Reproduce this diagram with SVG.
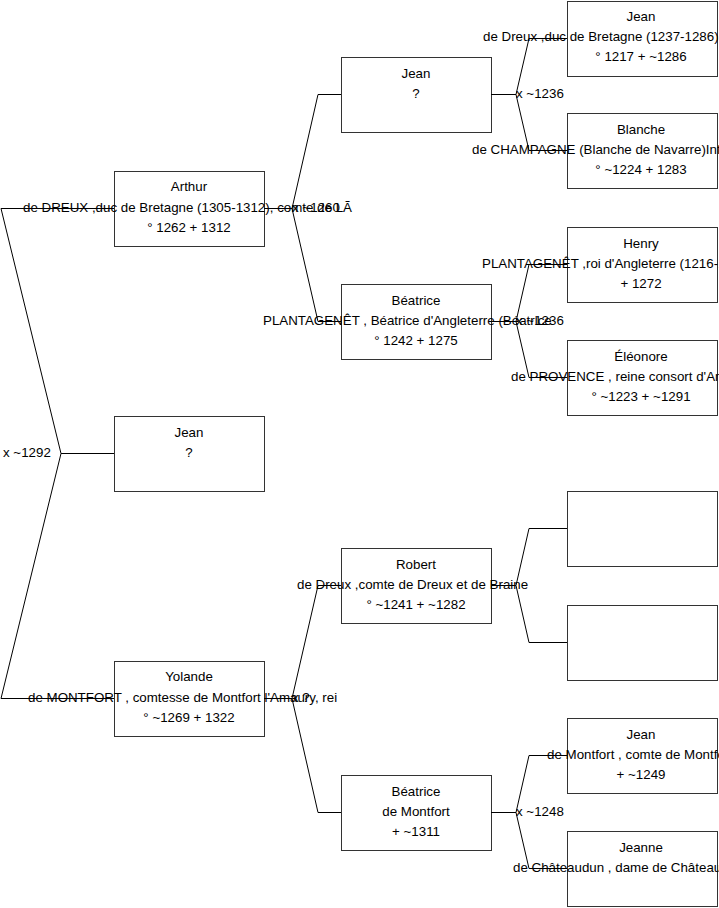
<svg xmlns="http://www.w3.org/2000/svg" width="719" height="908" viewBox="0 0 719 908">
<style>
.box{fill:#fff;stroke:#333;stroke-width:1}
.c{fill:none;stroke:#000;stroke-width:1}
text{font-family:"Liberation Sans",Arial,sans-serif;font-size:13.33px;fill:#000}
.m{text-anchor:middle}
</style>
<rect width="719" height="908" fill="#fff"/>
<g id="n-arthur"><rect class="box" x="114.5" y="171.5" width="150" height="75"/>
<text class="m" x="189" y="191">Arthur</text>
<text x="23" y="212">de DREUX ,duc de Bretagne (1305-1312), comte de LÃ</text>
<text class="m" x="189" y="232">° 1262 + 1312</text></g>
<g id="n-jean1"><rect class="box" x="114.5" y="416.5" width="150" height="75"/>
<text class="m" x="189" y="437">Jean</text>
<text class="m" x="189" y="457">?</text></g>
<g id="n-yolande"><rect class="box" x="114.5" y="661.5" width="150" height="75"/>
<text class="m" x="189" y="681">Yolande</text>
<text x="28" y="702">de MONTFORT , comtesse de Montfort l'Amaury,  rei</text>
<text class="m" x="189" y="722">° ~1269 + 1322</text></g>
<g id="n-jean2"><rect class="box" x="341.5" y="57.5" width="150" height="75"/>
<text class="m" x="416" y="78">Jean</text>
<text class="m" x="416" y="98">?</text></g>
<g id="n-beatrice1"><rect class="box" x="341.5" y="284.5" width="150" height="75"/>
<text class="m" x="416" y="305">Béatrice</text>
<text x="263" y="325">PLANTAGENÊT , Béatrice d'Angleterre (Béatrice</text>
<text class="m" x="416" y="345">° 1242 + 1275</text></g>
<g id="n-robert"><rect class="box" x="341.5" y="548.5" width="150" height="75"/>
<text class="m" x="416" y="569">Robert</text>
<text x="297" y="589">de Dreux ,comte de Dreux et de Braine</text>
<text class="m" x="416" y="609">° ~1241 + ~1282</text></g>
<g id="n-beatrice2"><rect class="box" x="341.5" y="775.5" width="150" height="75"/>
<text class="m" x="416" y="796">Béatrice</text>
<text class="m" x="416" y="816">de Montfort</text>
<text class="m" x="416" y="836">+ ~1311</text></g>
<g id="n-jean3"><rect class="box" x="567.5" y="1.5" width="150" height="75"/>
<text class="m" x="641" y="21">Jean</text>
<text x="483" y="41">de Dreux ,duc de Bretagne (1237-1286)</text>
<text class="m" x="641" y="61">° 1217 + ~1286</text></g>
<g id="n-blanche"><rect class="box" x="567.5" y="113.5" width="150" height="75"/>
<text class="m" x="641" y="134">Blanche</text>
<text x="472" y="154">de CHAMPAGNE (Blanche de Navarre)Inf</text>
<text class="m" x="641" y="174">° ~1224 + 1283</text></g>
<g id="n-henry"><rect class="box" x="567.5" y="227.5" width="150" height="75"/>
<text class="m" x="641" y="248">Henry</text>
<text x="482" y="268">PLANTAGENÊT ,roi d'Angleterre (1216-1</text>
<text class="m" x="641" y="288">+ 1272</text></g>
<g id="n-eleonore"><rect class="box" x="567.5" y="340.5" width="150" height="75"/>
<text class="m" x="641" y="361">Éléonore</text>
<text x="511" y="381">de PROVENCE , reine consort d'An</text>
<text class="m" x="641" y="401">° ~1223 + ~1291</text></g>
<g id="n-empty1"><rect class="box" x="567.5" y="491.5" width="150" height="75"/></g>
<g id="n-empty2"><rect class="box" x="567.5" y="605.5" width="150" height="75"/></g>
<g id="n-jean4"><rect class="box" x="567.5" y="718.5" width="150" height="75"/>
<text class="m" x="641" y="739">Jean</text>
<text x="547" y="759">de Montfort , comte de Montfo</text>
<text class="m" x="641" y="779">+ ~1249</text></g>
<g id="n-jeanne"><rect class="box" x="567.5" y="831.5" width="150" height="75"/>
<text class="m" x="641" y="852">Jeanne</text>
<text x="513" y="872">de Châteaudun , dame de Château</text></g>
<g id="connectors">
<path class="c" d="M1,208.5 H114 M61,453.5 L1,208.5 M61,453.5 H114 M61,453.5 L1,698.5 H114"/>
<path class="c" d="M264,208.5 H292 M292,208.5 L318,94.5 H341 M292,208.5 L318,321.5 H341"/>
<path class="c" d="M264,698.5 H292 M292,698.5 L318,585.5 H341 M292,698.5 L318,812.5 H341"/>
<path class="c" d="M491,94.5 H516 M516,94.5 L529,38.5 H567 M516,94.5 L529,150.5 H567"/>
<path class="c" d="M491,321.5 H516 M516,321.5 L529,264.5 H567 M516,321.5 L529,377.5 H567"/>
<path class="c" d="M491,585.5 H516 M516,585.5 L529,528.5 H567 M516,585.5 L529,642.5 H567"/>
<path class="c" d="M491,812.5 H516 M516,812.5 L529,755.5 H567 M516,812.5 L529,868.5 H567"/>
<text x="3" y="457">x ~1292</text>
<text x="292" y="212">x ~1260</text>
<text x="292" y="702">x ?</text>
<text x="516" y="98">x ~1236</text>
<text x="516" y="325">x ~1236</text>
<text x="516" y="816">x ~1248</text>
</g>
</svg>
